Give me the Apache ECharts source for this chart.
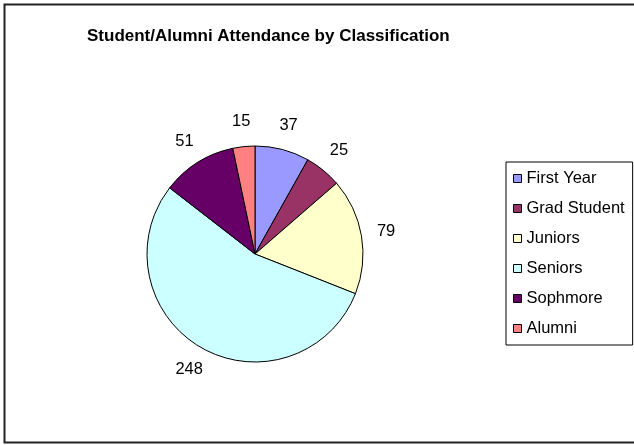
<!DOCTYPE html>
<html>
<head>
<meta charset="utf-8">
<script src="https://cdn.jsdelivr.net/npm/echarts@6/dist/echarts.min.js"></script>
<style>
  html, body { margin: 0; padding: 0; background: #fff; }
  #chart { width: 634px; height: 445px; }
</style>
</head>
<body>
<div id="chart"></div>
<script>
// data
const categories = ['First Year', 'Grad Student', 'Juniors', 'Seniors', 'Sophmore', 'Alumni'];
const attendance = [37, 25, 79, 248, 51, 15];
const sliceColors = ['#9999FF', '#993366', '#FFFFCC', '#CCFFFF', '#660066', '#FF8080'];

const pieData = categories.map((name, i) => ({
  name: name,
  value: attendance[i],
  itemStyle: { color: sliceColors[i] }
}));

const chart = echarts.init(document.getElementById('chart'));
const font = 'Liberation Sans, Arial, sans-serif';

chart.setOption({
  animation: false,
  title: {
    text: 'Student/Alumni Attendance by Classification',
    left: 82,
    top: 23,
    textStyle: { fontFamily: font, fontSize: 17, fontWeight: 'bold', color: '#000' }
  },
  legend: {
    orient: 'vertical',
    left: 506,
    top: 162,
    padding: [8, 8, 8, 7],
    itemWidth: 8,
    itemHeight: 8,
    itemGap: 13,
    icon: 'rect',
    borderColor: '#000',
    borderWidth: 1,
    data: categories,
    itemStyle: { borderColor: '#000', borderWidth: 1 },
    textStyle: { fontFamily: font, fontSize: 16.5, color: '#000' }
  },
  graphic: [{
    type: 'rect',
    shape: { x: 4.5, y: 4.5, width: 700, height: 438 },
    style: { fill: 'none', stroke: '#222', lineWidth: 2 },
    silent: true
  }],
  series: [
    {
      type: 'pie',
      center: [255, 254],
      radius: 108,
      startAngle: 90,
      clockwise: true,
      label: { show: false },
      labelLine: { show: false },
      itemStyle: { borderColor: '#000', borderWidth: 1 },
      emphasis: { disabled: true },
      data: pieData
    },
    {
      // invisible ring, only used to place the value labels
      type: 'pie',
      center: [255, 254],
      radius: [118, 142],
      startAngle: 90,
      clockwise: true,
      silent: true,
      itemStyle: { color: 'rgba(0,0,0,0)', borderWidth: 0 },
      label: {
        show: true,
        position: 'inside',
        formatter: '{c}',
        fontFamily: font,
        fontSize: 16.5,
        color: '#000'
      },
      labelLine: { show: false },
      emphasis: { disabled: true },
      data: pieData.map(d => ({ name: d.name, value: d.value, itemStyle: { color: 'rgba(0,0,0,0)' } }))
    }
  ]
});
</script>
</body>
</html>
